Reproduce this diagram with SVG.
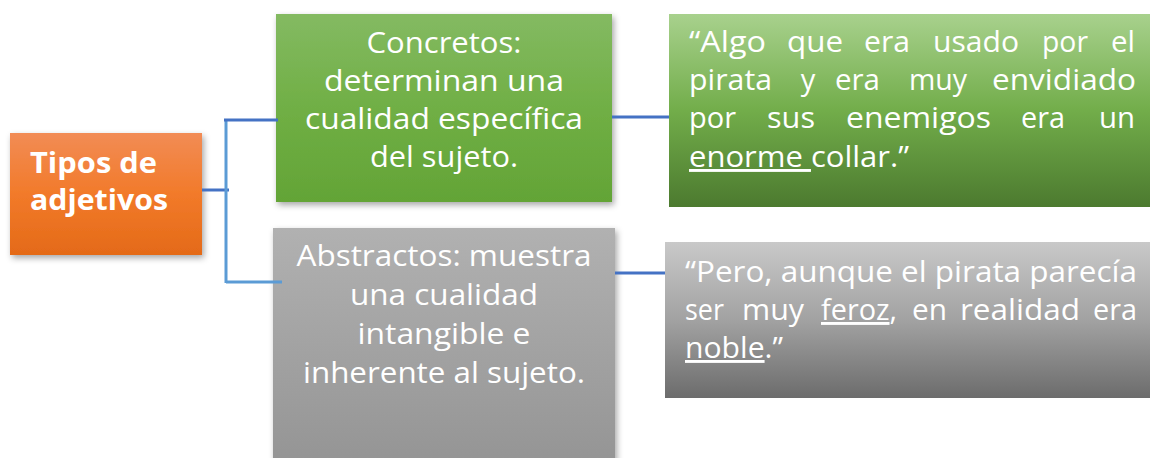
<svg xmlns="http://www.w3.org/2000/svg" width="1150" height="458" viewBox="0 0 1150 458">
<style>
.t{font-family:"Open Sans","Liberation Sans",sans-serif;font-size:29px;fill:#FFFFFF}
.c{text-anchor:middle}
.b{font-weight:bold}
.u{text-decoration:underline}
.line{fill:none;stroke-width:3}
</style>
<defs>
<filter id="sh" x="-10%" y="-10%" width="125%" height="130%">
<feDropShadow dx="2" dy="3" stdDeviation="3" flood-color="#000" flood-opacity="0.35"/>
</filter>
<linearGradient id="gOr" x1="0" y1="0" x2="0" y2="1"><stop offset="0" stop-color="#F28C55"/><stop offset="0.5" stop-color="#F27A2A"/><stop offset="1" stop-color="#E46A18"/></linearGradient>
<linearGradient id="gGr" x1="0" y1="0" x2="0" y2="1"><stop offset="0" stop-color="#84BA62"/><stop offset="0.5" stop-color="#70AF45"/><stop offset="1" stop-color="#63A436"/></linearGradient>
<linearGradient id="gGq" x1="0" y1="0" x2="0" y2="1"><stop offset="0" stop-color="#A8D18D"/><stop offset="0.5" stop-color="#72AD4A"/><stop offset="1" stop-color="#4C7A2F"/></linearGradient>
<linearGradient id="gGy" x1="0" y1="0" x2="0" y2="1"><stop offset="0" stop-color="#B1B1B1"/><stop offset="1" stop-color="#949494"/></linearGradient>
<linearGradient id="gGyq" x1="0" y1="0" x2="0" y2="1"><stop offset="0" stop-color="#C9C9C9"/><stop offset="0.5" stop-color="#A2A2A2"/><stop offset="1" stop-color="#6C6C6C"/></linearGradient>
</defs>
<g id="tipos">
<rect x="10" y="133" width="192" height="122" fill="url(#gOr)" filter="url(#sh)"/>
<text class="t b" x="30" y="173" textLength="127" lengthAdjust="spacingAndGlyphs">Tipos de</text>
<text class="t b" x="30" y="210" textLength="138" lengthAdjust="spacingAndGlyphs">adjetivos</text>
</g>
<g id="concretos">
<rect x="276" y="14" width="336" height="188" fill="url(#gGr)" filter="url(#sh)"/>
<text class="t c" x="444" y="53" textLength="155" lengthAdjust="spacingAndGlyphs">Concretos:</text>
<text class="t c" x="444" y="91" textLength="240" lengthAdjust="spacingAndGlyphs">determinan una</text>
<text class="t c" x="444" y="129" textLength="278" lengthAdjust="spacingAndGlyphs">cualidad específica</text>
<text class="t c" x="444" y="167" textLength="148" lengthAdjust="spacingAndGlyphs">del sujeto.</text>
</g>
<g id="abstractos">
<rect x="273" y="228" width="342" height="240" fill="url(#gGy)" filter="url(#sh)"/>
<text class="t c" x="444" y="266" textLength="295" lengthAdjust="spacingAndGlyphs">Abstractos: muestra</text>
<text class="t c" x="444" y="305" textLength="188" lengthAdjust="spacingAndGlyphs">una cualidad</text>
<text class="t c" x="444" y="344" textLength="173" lengthAdjust="spacingAndGlyphs">intangible e</text>
<text class="t c" x="444" y="383" textLength="282" lengthAdjust="spacingAndGlyphs">inherente al sujeto.</text>
</g>
<g id="ejemplo-concretos">
<rect x="669" y="14" width="481" height="193" fill="url(#gGq)"/>
<text class="t" x="689" y="52" textLength="77" lengthAdjust="spacingAndGlyphs">“Algo</text>
<text class="t" x="787" y="52" textLength="56" lengthAdjust="spacingAndGlyphs">que</text>
<text class="t" x="864" y="52" textLength="46" lengthAdjust="spacingAndGlyphs">era</text>
<text class="t" x="933" y="52" textLength="86" lengthAdjust="spacingAndGlyphs">usado</text>
<text class="t" x="1042" y="52" textLength="46" lengthAdjust="spacingAndGlyphs">por</text>
<text class="t" x="1111" y="52" textLength="24" lengthAdjust="spacingAndGlyphs">el</text>
<text class="t" x="689" y="90" textLength="83" lengthAdjust="spacingAndGlyphs">pirata</text>
<text class="t c" x="808" y="90">y</text>
<text class="t" x="835" y="90" textLength="45" lengthAdjust="spacingAndGlyphs">era</text>
<text class="t" x="909" y="90" textLength="58" lengthAdjust="spacingAndGlyphs">muy</text>
<text class="t" x="992" y="90" textLength="144" lengthAdjust="spacingAndGlyphs">envidiado</text>
<text class="t" x="689" y="128" textLength="47" lengthAdjust="spacingAndGlyphs">por</text>
<text class="t" x="767" y="128" textLength="48" lengthAdjust="spacingAndGlyphs">sus</text>
<text class="t" x="846" y="128" textLength="145" lengthAdjust="spacingAndGlyphs">enemigos</text>
<text class="t" x="1021" y="128" textLength="44" lengthAdjust="spacingAndGlyphs">era</text>
<text class="t" x="1099" y="128" textLength="36" lengthAdjust="spacingAndGlyphs">un</text>
<text class="t" x="689" y="167" textLength="220" lengthAdjust="spacingAndGlyphs"><tspan class="u">enorme </tspan>collar.”</text>
</g>
<g id="ejemplo-abstractos">
<rect x="665" y="242" width="485" height="156" fill="url(#gGyq)"/>
<text class="t" x="685" y="282" textLength="452" lengthAdjust="spacingAndGlyphs">“Pero, aunque el pirata parecía</text>
<text class="t" x="685" y="320" textLength="39" lengthAdjust="spacingAndGlyphs">ser</text>
<text class="t" x="742" y="320" textLength="62" lengthAdjust="spacingAndGlyphs">muy</text>
<text class="t" x="821" y="320" textLength="76" lengthAdjust="spacingAndGlyphs"><tspan class="u">feroz</tspan>,</text>
<text class="t" x="912" y="320" textLength="35" lengthAdjust="spacingAndGlyphs">en</text>
<text class="t" x="960" y="320" textLength="120" lengthAdjust="spacingAndGlyphs">realidad</text>
<text class="t" x="1093" y="320" textLength="44" lengthAdjust="spacingAndGlyphs">era</text>
<text class="t" x="685" y="358" textLength="98" lengthAdjust="spacingAndGlyphs"><tspan class="u">noble</tspan>.”</text>
</g>
<g id="connectors">
<line class="line" x1="202" y1="190" x2="229" y2="190" stroke="#4472C4"/>
<line class="line" x1="226" y1="119" x2="226" y2="283" stroke="#5B9BD5"/>
<line class="line" x1="224" y1="120" x2="278" y2="120" stroke="#4472C4"/>
<line class="line" x1="226" y1="282" x2="282" y2="282" stroke="#5B9BD5"/>
<line class="line" x1="612" y1="117" x2="669" y2="117" stroke="#4472C4"/>
<line class="line" x1="615" y1="273" x2="665" y2="273" stroke="#4472C4"/>
</g>
</svg>
